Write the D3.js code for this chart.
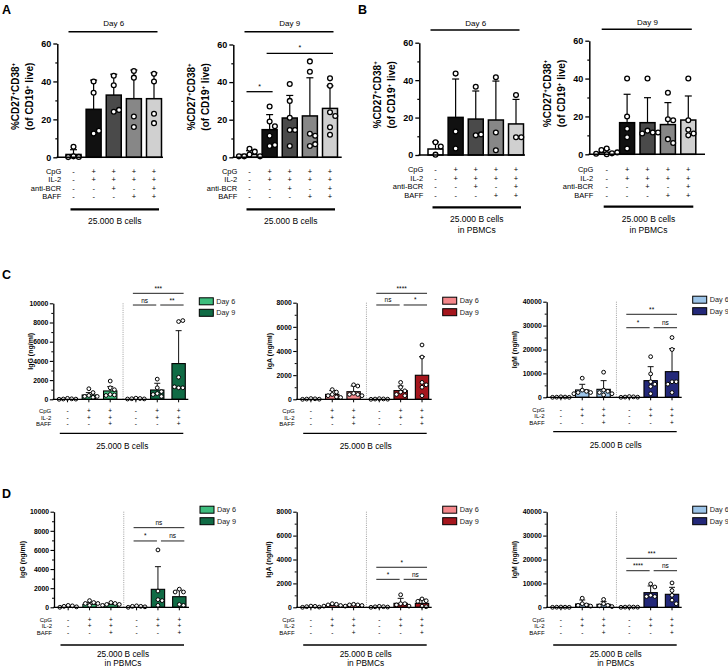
<!DOCTYPE html>
<html>
<head>
<meta charset="utf-8">
<script src="https://cdn.jsdelivr.net/npm/d3@7"></script>
<style>
body{margin:0;background:#fff}
svg{display:block}
</style>
</head>
<body>
<svg id="fig" width="728" height="667"></svg>
<script>
// ---- data: %CD27+CD38+ (of CD19+ live), panels A and B ----
var pctCats = ["CpG", "IL-2", "anti-BCR", "BAFF"]
var pctSigns = [["-","+","+","+","+"], ["-","+","+","+","+"], ["-","-","+","-","+"], ["-","-","-","+","+"]]
var pctFills = ["#ffffff", "#111111", "#4a4a4a", "#878787", "#d0d0d0"]
var pctTicks = [0, 20, 40, 60]

var aDay6Mean = [1.5, 25.3, 32.8, 30.9, 30.9]
var aDay6Err = [2.5, 15.4, 11.0, 15.1, 13.6]
var aDay6Pts = [[5.5, 0.5, 0.2, 0.1], [40, 34, 12.5, 14], [43, 38, 24, 25], [45.5, 42, 21.5, 16], [44, 40, 23, 18]]

var aDay9Mean = [1.5, 14.7, 20.9, 22, 26]
var aDay9Err = [2, 8, 12, 20.3, 12]
var aDay9Pts = [[4.5, 3, 1.5, 0.5, 0.5, 0.5], [27, 19, 16.5, 11.5, 6, 6.5], [39, 30, 21, 14.5, 14.5, 6], [51, 45.5, 12.5, 11.5, 6, 7], [42, 38, 24, 22, 16, 12]]

var bDay6Mean = [3.2, 20.1, 19.2, 18.7, 16.6]
var bDay6Err = [3.8, 20.5, 15, 20.8, 13.1]
var bDay6Pts = [[6.8, 4.5, 0.2], [43.5, 12.5, 3.5], [36.5, 10.5, 11], [41.5, 12, 2.5], [32, 9.5, 9.5]]

var bDay9Mean = [1, 16.7, 16.7, 15.7, 18.1]
var bDay9Err = [1.5, 15, 13.2, 11.6, 12.7]
var bDay9Pts = [[0, 0.5, 2.3, 3, 1, 0.3], [40, 20, 13.5, 9, 3], [40, 12.5, 11.5, 11, 11.5], [32.5, 18.5, 18, 8, 6], [40, 18, 13, 10, 11]]

// ---- data: immunoglobulins (ng/ml), panels C and D ----
var igCats = ["CpG", "IL-2", "BAFF"]
var igSigns = [["-","+","+","-","+","+"], ["-","+","+","-","+","+"], ["-","-","+","-","-","+"]]
var dayNames = ["Day 6", "Day 9"]
var igGColors = ["#3dbd7d", "#106b45"]
var igAColors = ["#f4878b", "#a5161d"]
var igMColors = ["#9cc4e8", "#232879"]

var cIgGMean = [50, 450, 870, 80, 970, 3720]
var cIgGErr = [60, 250, 450, 70, 700, 3430]
var cIgGPts = [[100, 50, 30, 20, 0], [1100, 700, 400, 300, 200, 300], [1900, 1200, 1000, 500, 450, 400], [120, 80, 60, 40, 30], [2100, 1200, 800, 600, 500, 300], [8100, 8200, 2300, 1200, 1200, 1300]]

var cIgAMean = [30, 410, 630, 30, 720, 1990]
var cIgAErr = [40, 310, 470, 40, 380, 1540]
var cIgAPts = [[60, 40, 20, 10, 0], [800, 600, 400, 300, 200, 150], [1200, 1100, 500, 400, 400, 300], [50, 30, 20, 10, 0], [1400, 1000, 700, 600, 400, 300], [4500, 3500, 1400, 1200, 1000, 300]]

var cIgMMean = [100, 3070, 3340, 200, 6970, 10730]
var cIgMErr = [150, 2370, 3630, 150, 5850, 9620]
var cIgMPts = [[200, 100, 50, 0, 0], [8000, 3000, 2500, 2000, 2000, 1500], [10500, 3000, 2500, 2000, 1500, 1000], [300, 200, 100, 50, 0], [17000, 9800, 6500, 5500, 4500, 1500], [25000, 20000, 6500, 6500, 5500, 2000]]

var dIgGMean = [100, 310, 280, 100, 1880, 1110]
var dIgGErr = [80, 210, 140, 80, 2370, 700]
var dIgGPts = [[200, 150, 100, 50, 0], [700, 500, 400, 400, 200], [500, 400, 300, 300, 200], [150, 100, 100, 50, 0], [6000, 1700, 800, 700, 200], [1900, 1600, 1600, 300, 200]]

var dIgAMean = [50, 150, 180, 40, 330, 330]
var dIgAErr = [40, 100, 70, 40, 420, 340]
var dIgAPts = [[100, 80, 50, 20, 0], [300, 250, 200, 150, 100], [250, 200, 200, 150, 100], [80, 50, 40, 20, 0], [1050, 300, 300, 200, 100], [700, 550, 500, 100, 50]]

var dIgMMean = [50, 1390, 1250, 100, 6130, 5440]
var dIgMErr = [80, 1680, 1120, 80, 2790, 2920]
var dIgMPts = [[100, 50, 50, 0, 0], [3800, 1500, 1000, 800, 500], [3300, 1500, 800, 600, 300], [150, 100, 80, 50, 0], [9800, 8500, 5000, 4500, 4500], [10200, 7000, 5000, 3000, 1500]]

var svg = d3.select("#fig")
var FONT = "'Liberation Sans', Arial, Helvetica, sans-serif"
svg.style("font-family", FONT)

// simple beeswarm so points sharing a value spread sideways
function swarm(vals, y, cx, r) {
    var placed = []
    return vals.map(function(v) {
        var py = y(v), k = 0, px
        while (true) {
            var off = k == 0 ? 0 : Math.ceil(k / 2) * r * 2.2 * (k % 2 ? 1 : -1)
            px = cx + off
            var ok = placed.every(function(p) { return Math.hypot(p[0] - px, p[1] - py) >= r * 2.1 })
            if (ok || k > 12) break
            k++
        }
        placed.push([px, py])
        return [px, py]
    })
}

function addSup(text, parts, fs) {
    var up = false
    parts.forEach(function(p) {
        var t = text.append("tspan").text(p[0])
        if (p[1]) { t.attr("font-size", fs * 0.62).attr("dy", -fs * 0.42); up = true }
        else { t.attr("font-size", fs).attr("dy", up ? fs * 0.42 : 0); up = false }
    })
}

function panelLetter(t, x, y) {
    svg.append("text").attr("x", x).attr("y", y).attr("font-size", 12.5).attr("font-weight", "bold").text(t)
}

function pctPanel(o) {
    var g = svg.append("g")
    var y = d3.scaleLinear().domain([0, 60]).range([o.yBot, o.yTop])
    var x = d3.scalePoint().domain(d3.range(o.mean.length)).range([o.x0, o.x1])
    var bw = 15

    g.selectAll("rect.bar").data(o.mean).enter().append("rect")
        .attr("x", function(d, i) { return x(i) - bw / 2 })
        .attr("y", function(d) { return y(d) })
        .attr("width", bw)
        .attr("height", function(d) { return o.yBot - y(d) })
        .attr("fill", function(d, i) { return pctFills[i] })
        .attr("stroke", "#000").attr("stroke-width", 1.5)

    o.mean.forEach(function(m, i) {
        var top = y(m + o.err[i])
        g.append("line").attr("x1", x(i)).attr("x2", x(i)).attr("y1", y(m)).attr("y2", top).attr("stroke", "#000").attr("stroke-width", 1.2)
        g.append("line").attr("x1", x(i) - 3.5).attr("x2", x(i) + 3.5).attr("y1", top).attr("y2", top).attr("stroke", "#000").attr("stroke-width", 1.2)
    })

    o.pts.forEach(function(p, i) {
        g.selectAll(null).data(swarm(p, y, x(i), 2.4)).enter().append("circle")
            .attr("cx", function(d) { return d[0] }).attr("cy", function(d) { return d[1] })
            .attr("r", 2.4).attr("fill", "#fff").attr("stroke", "#000").attr("stroke-width", 1.3)
    })

    var ya = g.append("g").attr("transform", "translate(" + o.ax + ",0)")
        .call(d3.axisLeft(y).tickValues(pctTicks).tickSize(4).tickSizeOuter(0).tickPadding(2))
    ya.select(".domain").attr("stroke-width", 1.5)
    ya.selectAll(".tick line").attr("stroke-width", 1.3)
    ya.selectAll("text").attr("font-size", 9).attr("font-weight", "bold").attr("font-family", FONT).attr("fill", "#000")
    var ym = g.append("g").attr("transform", "translate(" + o.ax + ",0)")
        .call(d3.axisLeft(y).tickValues([10, 30, 50]).tickSize(2).tickFormat(""))
    ym.select(".domain").remove()
    ym.selectAll(".tick line").attr("stroke-width", 1.2)

    g.append("line").attr("x1", o.ax - 0.75).attr("x2", o.axEnd).attr("y1", o.yBot).attr("y2", o.yBot).attr("stroke", "#000").attr("stroke-width", 1.5)

    // y label, two lines
    var lx = o.ax - 38, ly = (o.yTop + o.yBot) / 2 - 4
    var t1 = g.append("text").attr("transform", "translate(" + lx + "," + ly + ") rotate(-90)")
        .attr("text-anchor", "middle").attr("font-weight", "bold")
    addSup(t1, [["%CD27", 0], ["+", 1], ["CD38", 0], ["+", 1]], 10)
    var t2 = g.append("text").attr("transform", "translate(" + (lx + 14) + "," + ly + ") rotate(-90)")
        .attr("text-anchor", "middle").attr("font-weight", "bold")
    addSup(t2, [["(of  CD19", 0], ["+", 1], [" live)", 0]], 10)

    // day header
    g.append("text").attr("x", (x(0) + x(4)) / 2).attr("y", o.titleY).attr("text-anchor", "middle").attr("font-size", 8).text(o.title)
    g.append("line").attr("x1", x(0) - 5).attr("x2", x(4) + 3.5).attr("y1", o.headY).attr("y2", o.headY).attr("stroke", "#000").attr("stroke-width", 1.4)

    // significance
    o.sig.forEach(function(s) {
        var sy = y(s.v)
        g.append("line").attr("x1", x(s.from) - 3).attr("x2", x(s.to) + 3).attr("y1", sy).attr("y2", sy).attr("stroke", "#000").attr("stroke-width", 1.3)
        g.append("text").attr("x", (x(s.from) + x(s.to)) / 2).attr("y", sy - 3).attr("text-anchor", "middle").attr("font-size", 7).text(s.label)
    })

    // treatment table
    pctCats.forEach(function(c, r) {
        var ry = o.tableY + r * 8.6
        g.append("text").attr("x", o.ax + 4).attr("y", ry).attr("text-anchor", "end").attr("font-size", 7.5).attr("fill", "#000").text(c)
        pctSigns[r].forEach(function(s, i) {
            g.append("text").attr("x", x(i)).attr("y", ry).attr("text-anchor", "middle").attr("font-size", 7.5).attr("fill", "#000").text(s)
        })
    })

    g.append("line").attr("x1", x(0) - 3).attr("x2", x(4) + 5).attr("y1", o.lineY).attr("y2", o.lineY).attr("stroke", "#000").attr("stroke-width", 2.2)
    o.foot.forEach(function(f, k) {
        g.append("text").attr("x", (x(0) + x(4)) / 2 + 1).attr("y", o.lineY + 15 + k * 11).attr("text-anchor", "middle").attr("font-size", 8.5).text(f)
    })
}

function igPanel(o) {
    var g = svg.append("g")
    var y = d3.scaleLinear().domain([0, o.yMax]).range([o.yBot, o.yTop])
    var outer = d3.scaleBand().domain(dayNames).range([o.ax + 3.5, o.ax + 136]).paddingInner(0.063)
    var inner = d3.scaleBand().domain([0, 1, 2]).range([0, outer.bandwidth()]).paddingInner(0.375).paddingOuter(0.1875)
    var bw = inner.bandwidth()
    function cx(i) { return outer(dayNames[Math.floor(i / 3)]) + inner(i % 3) + bw / 2 }

    // dotted separator between days
    var sepX = (outer(dayNames[0]) + outer.bandwidth() + outer(dayNames[1])) / 2
    g.append("line").attr("x1", sepX).attr("x2", sepX).attr("y1", o.yTop).attr("y2", o.yBot)
        .attr("stroke", "#888").attr("stroke-width", 0.8).attr("stroke-dasharray", "1,1.2")

    g.selectAll("rect.bar").data(o.mean).enter().append("rect")
        .attr("x", function(d, i) { return cx(i) - bw / 2 })
        .attr("y", function(d) { return y(d) })
        .attr("width", bw)
        .attr("height", function(d) { return o.yBot - y(d) })
        .attr("fill", function(d, i) { return i % 3 == 0 ? "#fff" : o.colors[Math.floor(i / 3)] })
        .attr("stroke", "#000").attr("stroke-width", 1.1)

    o.mean.forEach(function(m, i) {
        var top = y(m + o.err[i])
        g.append("line").attr("x1", cx(i)).attr("x2", cx(i)).attr("y1", y(m)).attr("y2", top).attr("stroke", "#111").attr("stroke-width", 1)
        g.append("line").attr("x1", cx(i) - 3).attr("x2", cx(i) + 3).attr("y1", top).attr("y2", top).attr("stroke", "#111").attr("stroke-width", 1)
        g.append("line").attr("x1", cx(i)).attr("x2", cx(i)).attr("y1", o.yBot).attr("y2", o.yBot + 3).attr("stroke", "#000").attr("stroke-width", 1)
    })

    o.pts.forEach(function(p, i) {
        g.selectAll(null).data(swarm(p, y, cx(i), 1.9)).enter().append("circle")
            .attr("cx", function(d) { return d[0] }).attr("cy", function(d) { return d[1] })
            .attr("r", 1.9).attr("fill", "#fff").attr("stroke", "#000").attr("stroke-width", 1)
    })

    var ya = g.append("g").attr("transform", "translate(" + o.ax + ",0)")
        .call(d3.axisLeft(y).tickValues(d3.range(0, o.yMax + 1, o.step)).tickSize(3.5).tickSizeOuter(0).tickPadding(1.5).tickFormat(d3.format("d")))
    ya.select(".domain").attr("stroke-width", 1.3)
    ya.selectAll(".tick line").attr("stroke-width", 1.1)
    ya.selectAll("text").attr("font-size", 6.8).attr("font-weight", "bold").attr("font-family", FONT).attr("fill", "#000")
    var ym = g.append("g").attr("transform", "translate(" + o.ax + ",0)")
        .call(d3.axisLeft(y).tickValues(d3.range(o.step / 2, o.yMax, o.step)).tickSize(2).tickFormat(""))
    ym.select(".domain").remove()
    ym.selectAll(".tick line").attr("stroke-width", 1)

    g.append("line").attr("x1", o.ax - 0.65).attr("x2", o.ax + 135).attr("y1", o.yBot).attr("y2", o.yBot).attr("stroke", "#000").attr("stroke-width", 1.3)

    g.append("text").attr("transform", "translate(" + (o.ax - o.labOff) + "," + ((o.yTop + o.yBot) / 2) + ") rotate(-90)")
        .attr("text-anchor", "middle").attr("font-size", 7).attr("font-weight", "bold").text(o.label)

    // legend
    dayNames.forEach(function(dn, k) {
        var ly = o.yTop - 5.5 + k * 11.5
        g.append("rect").attr("x", o.ax + 146).attr("y", ly).attr("width", 14).attr("height", 7)
            .attr("fill", o.colors[k]).attr("stroke", "#000").attr("stroke-width", 1)
        g.append("text").attr("x", o.ax + 163).attr("y", ly + 6).attr("font-size", 7.3).attr("fill", "#222").text(dn)
    })

    // significance
    o.sig.forEach(function(s) {
        var sy = y(s.v)
        var x1 = s.from == 3 ? cx(3) - 3 : cx(s.from) + 3
        var x2 = s.to == 5 ? cx(5) + 5 : cx(s.to) - 1
        g.append("line").attr("x1", x1).attr("x2", x2).attr("y1", sy).attr("y2", sy).attr("stroke", "#222").attr("stroke-width", 1)
        g.append("text").attr("x", (x1 + x2) / 2).attr("y", sy - 2.5).attr("text-anchor", "middle").attr("font-size", 6.5).text(s.label)
    })

    // treatment table
    igCats.forEach(function(c, r) {
        var ry = o.tableY + r * 6.7
        g.append("text").attr("x", o.ax - 2).attr("y", ry).attr("text-anchor", "end").attr("font-size", 6).attr("fill", "#000").text(c)
        igSigns[r].forEach(function(s, i) {
            g.append("text").attr("x", cx(i)).attr("y", ry).attr("text-anchor", "middle").attr("font-size", 6.5).attr("fill", "#000").text(s)
        })
    })

    g.append("line").attr("x1", o.ax + 6.5).attr("x2", o.ax + 130).attr("y1", o.lineY).attr("y2", o.lineY).attr("stroke", "#000").attr("stroke-width", 1.3)
    o.foot.forEach(function(f, k) {
        g.append("text").attr("x", o.ax + 69).attr("y", o.lineY + o.footGap + k * 8.8).attr("text-anchor", "middle").attr("font-size", 8.3).text(f)
    })
}

panelLetter("A", 2, 13.5)
panelLetter("B", 358, 13.5)
panelLetter("C", 2, 278.5)
panelLetter("D", 2, 497.5)

pctPanel({ax: 57.3, axEnd: 163, yTop: 43.5, yBot: 157.3, x0: 73.5, x1: 154, title: "Day 6", titleY: 25.5, headY: 31.7,
    tableY: 173.5, lineY: 209.3, foot: ["25.000 B cells"], mean: aDay6Mean, err: aDay6Err, pts: aDay6Pts, sig: []})
pctPanel({ax: 233.3, axEnd: 341.7, yTop: 44.5, yBot: 157.3, x0: 249.5, x1: 330, title: "Day 9", titleY: 25.5, headY: 31.7,
    tableY: 173.5, lineY: 209.3, foot: ["25.000 B cells"], mean: aDay9Mean, err: aDay9Err, pts: aDay9Pts,
    sig: [{from: 1, to: 4, v: 55.3, label: "*"}, {from: 0, to: 1, v: 34.9, label: "*"}]})
pctPanel({ax: 419.3, axEnd: 525, yTop: 42.7, yBot: 155, x0: 435.5, x1: 516, title: "Day 6", titleY: 25.5, headY: 30,
    tableY: 172, lineY: 207.3, foot: ["25.000 B cells", "in PBMCs"], mean: bDay6Mean, err: bDay6Err, pts: bDay6Pts, sig: []})
pctPanel({ax: 589.3, axEnd: 705, yTop: 40.7, yBot: 154.3, x0: 606.7, x1: 688.3, title: "Day 9", titleY: 25, headY: 29.3,
    tableY: 172, lineY: 206.7, foot: ["25.000 B cells", "in PBMCs"], mean: bDay9Mean, err: bDay9Err, pts: bDay9Pts, sig: []})

igPanel({ax: 53.3, yTop: 303.3, yBot: 399.3, yMax: 10000, step: 2000, label: "IgG (ng/ml)", labOff: 20, colors: igGColors,
    mean: cIgGMean, err: cIgGErr, pts: cIgGPts, tableY: 412.8, lineY: 433.3, footGap: 16, foot: ["25.000 B cells"],
    sig: [{from: 3, to: 5, v: 11040, label: "***"}, {from: 3, to: 4, v: 9820, label: "ns"}, {from: 4, to: 5, v: 9820, label: "**"}]})
igPanel({ax: 296.7, yTop: 302.7, yBot: 399.3, yMax: 8000, step: 2000, label: "IgA (ng/ml)", labOff: 25, colors: igAColors,
    mean: cIgAMean, err: cIgAErr, pts: cIgAPts, tableY: 412.8, lineY: 433.3, footGap: 16, foot: ["25.000 B cells"],
    sig: [{from: 3, to: 5, v: 8778, label: "****"}, {from: 3, to: 4, v: 7810, label: "ns"}, {from: 4, to: 5, v: 7810, label: "*"}]})
igPanel({ax: 546.7, yTop: 301.7, yBot: 397.3, yMax: 40000, step: 10000, label: "IgM (ng/ml)", labOff: 30, colors: igMColors,
    mean: cIgMMean, err: cIgMErr, pts: cIgMPts, tableY: 411.5, lineY: 431.7, footGap: 16, foot: ["25.000 B cells"],
    sig: [{from: 3, to: 5, v: 34730, label: "**"}, {from: 3, to: 4, v: 29120, label: "*"}, {from: 4, to: 5, v: 29120, label: "ns"}]})

igPanel({ax: 54, yTop: 511.7, yBot: 607.3, yMax: 10000, step: 2000, label: "IgG (ng/ml)", labOff: 29, colors: igGColors,
    mean: dIgGMean, err: dIgGErr, pts: dIgGPts, tableY: 621.5, lineY: 645, footGap: 12, foot: ["25.000 B cells", "in PBMCs"],
    sig: [{from: 3, to: 5, v: 8330, label: "ns"}, {from: 3, to: 4, v: 6940, label: "*"}, {from: 4, to: 5, v: 6940, label: "ns"}]})
igPanel({ax: 296.7, yTop: 511.7, yBot: 607.3, yMax: 8000, step: 2000, label: "IgA (ng/ml)", labOff: 26, colors: igAColors,
    mean: dIgAMean, err: dIgAErr, pts: dIgAPts, tableY: 621.5, lineY: 645, footGap: 12, foot: ["25.000 B cells", "in PBMCs"],
    sig: [{from: 3, to: 5, v: 3350, label: "*"}, {from: 3, to: 4, v: 2340, label: "*"}, {from: 4, to: 5, v: 2340, label: "ns"}]})
igPanel({ax: 546.7, yTop: 511.7, yBot: 607.3, yMax: 40000, step: 10000, label: "IgM (ng/ml)", labOff: 30, colors: igMColors,
    mean: dIgMMean, err: dIgMErr, pts: dIgMPts, tableY: 621.5, lineY: 645, footGap: 12, foot: ["25.000 B cells", "in PBMCs"],
    sig: [{from: 3, to: 5, v: 20500, label: "***"}, {from: 3, to: 4, v: 15310, label: "****"}, {from: 4, to: 5, v: 15310, label: "ns"}]})
</script>
</body>
</html>
